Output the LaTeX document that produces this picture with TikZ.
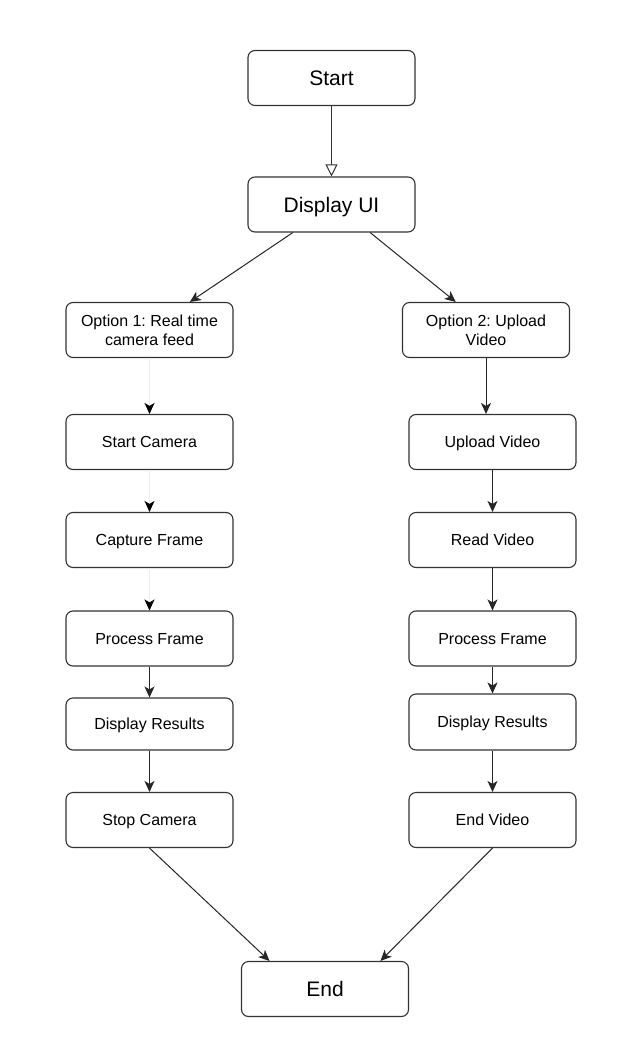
\documentclass[tikz,border=0pt]{standalone}
\usepackage{fontspec}
\setmainfont{Liberation Sans}
\usetikzlibrary{arrows.meta,calc}
\frenchspacing
\begin{document}
\begin{tikzpicture}[x=1pt,y=-1pt,
  box/.style={draw=black!80, line width=1.1pt, rounded corners=7pt, minimum width=167pt, minimum height=55pt, inner sep=0pt, align=center, text height=11.5pt, text depth=0pt, font=\fontsize{16}{18.5}\selectfont\frenchspacing},
  twoline/.style={box, text height=30pt},
  bigbox/.style={box, text height=15pt, font=\fontsize{21}{25}\selectfont},
  arr/.style={draw=black!85, line width=1pt, -{Stealth[length=11pt,width=10pt,inset=3pt]}},
  faint/.style={draw=black!7, line width=1pt, -{Stealth[length=11pt,width=10pt,inset=3pt,color=black]}},
  openarr/.style={draw=black!80, line width=1pt, -{Triangle[open,length=12pt,width=12pt,fill=white]}}
]
\useasboundingbox (0,0) rectangle (643,1051);
\fill[white] (0,0) rectangle (643,1051);

\node[bigbox] (start) at (331.5,78) {Start};
\node[bigbox] (ui) at (331.5,204.5) {Display UI};

\node[twoline] (o1) at (149.5,330) {Option 1: Real time\\camera feed};
\node[box] (sc) at (149.5,442) {Start Camera};
\node[box] (cf) at (149.5,540) {Capture Frame};
\node[box] (pf1) at (149.5,638.5) {Process Frame};
\node[box, minimum height=52pt] (dr1) at (149.5,724) {Display Results};
\node[box] (stc) at (149.5,820) {Stop Camera};

\node[twoline] (o2) at (486,330) {Option 2: Upload\\Video};
\node[box] (uv) at (492.5,442) {Upload Video};
\node[box] (rv) at (492.5,540) {Read Video};
\node[box] (pf2) at (492.5,638.5) {Process Frame};
\node[box, minimum height=56pt] (dr2) at (492.5,722) {Display Results};
\node[box] (ev) at (492.5,820) {End Video};

\node[bigbox] (end) at (325,989) {End};

\draw[openarr] (start) -- (ui);
\draw[arr] ($(ui.south west)!0.27!(ui.south east)$) -- ($(o1.north west)!0.74!(o1.north east)$);
\draw[arr] ($(ui.south west)!0.73!(ui.south east)$) -- ($(o2.north west)!0.32!(o2.north east)$);

\draw[faint] (o1) -- (sc);
\draw[faint] (sc) -- (cf);
\draw[faint] (cf) -- (pf1);
\draw[arr] (pf1) -- (dr1);
\draw[arr] (dr1) -- (stc);

\draw[arr] (o2.south) -- (o2.south |- uv.north);
\draw[arr] (uv) -- (rv);
\draw[arr] (rv) -- (pf2);
\draw[arr] (pf2) -- (dr2);
\draw[arr] (dr2) -- (ev);

\draw[arr] (stc.south) -- ($(end.north west)!0.17!(end.north east)$);
\draw[arr] (ev.south) -- ($(end.north west)!0.83!(end.north east)$);
\end{tikzpicture}
\end{document}
